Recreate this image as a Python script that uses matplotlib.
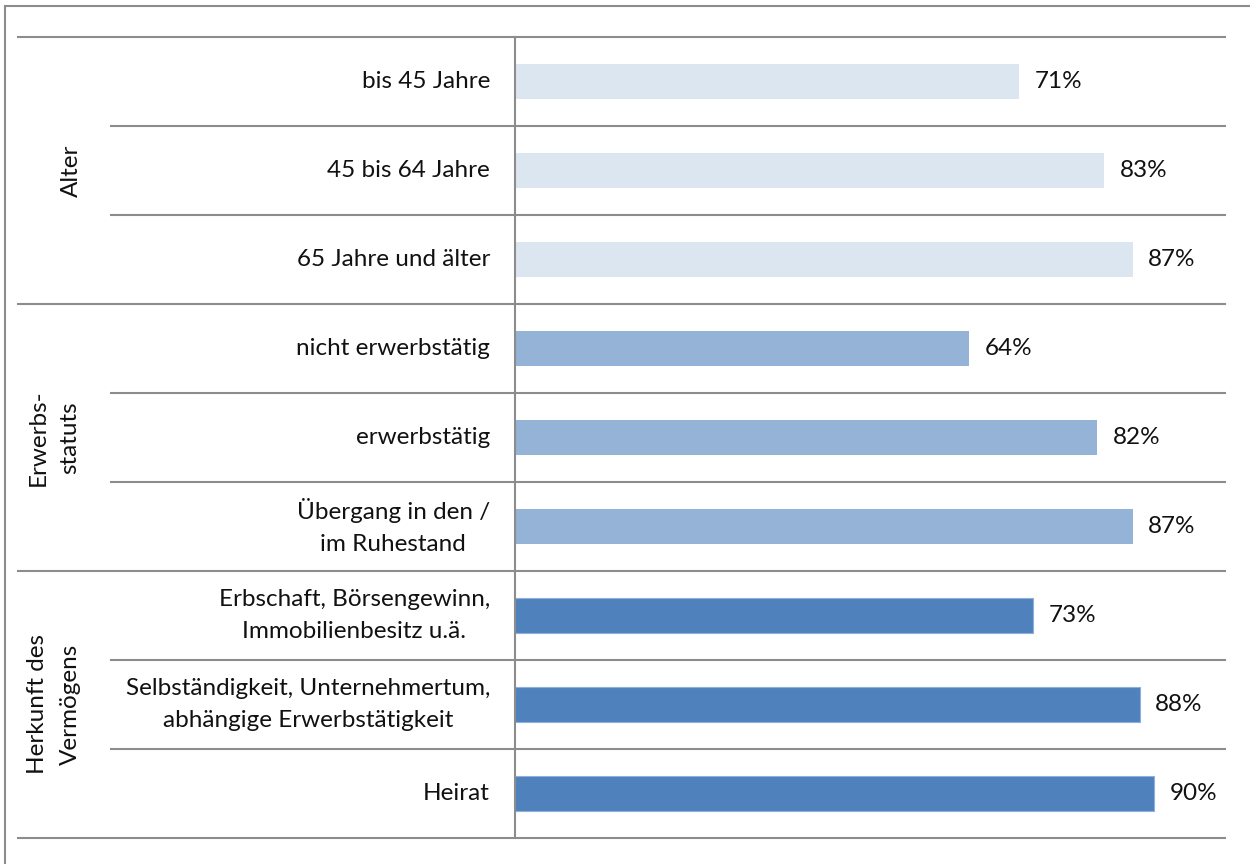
import matplotlib.pyplot as plt
from matplotlib.lines import Line2D
import matplotlib.transforms as mtransforms

plt.rcParams['font.family'] = ['Lato', 'DejaVu Sans']

# Daten
kategorien = ['bis 45 Jahre', '45 bis 64 Jahre', '65 Jahre und älter',
              'nicht erwerbstätig', 'erwerbstätig', 'Übergang in den /\nim Ruhestand',
              'Erbschaft, Börsengewinn,\nImmobilienbesitz u.ä.',
              'Selbständigkeit, Unternehmertum,\nabhängige Erwerbstätigkeit',
              'Heirat']
werte = [71, 83, 87, 64, 82, 87, 73, 88, 90]
gruppen = ['Alter', 'Erwerbs-\nstatuts', 'Herkunft des\nVermögens']
gruppen_groesse = [3, 3, 3]
gruppen_x = [71, 54, 54]
farben = ['#DCE6F1', '#95B3D7', '#4F81BD']

W, H = 1250, 864
fig = plt.figure(figsize=(W / 100, H / 100), dpi=100)
ax = fig.add_axes([515 / W, (H - 838) / H, 710 / W, (838 - 37) / H])

grau = '#8c8c8c'
fs = 17.5
n = len(werte)
y = list(range(n))
bar_farben = []
for g, k in enumerate(gruppen_groesse):
    bar_farben += [farben[g]] * k

bars = ax.barh(y, werte, height=0.4, color=bar_farben, left=0)
for b, f in zip(bars, bar_farben):
    if f == farben[2]:
        b.set_edgecolor('#8fb0dc')
        b.set_linewidth(0.8)

for yi, v in zip(y, werte):
    ax.annotate(f'{v}%', (v, yi), xytext=(11, 0), textcoords='offset points',
                va='center', ha='left', fontsize=fs, color='#111111')

ax.set_xlim(0, 100)
ax.set_ylim(n - 0.5, -0.5)
ax.set_xticks([])
ax.set_yticks([])
for s in ['top', 'right', 'bottom']:
    ax.spines[s].set_visible(False)
ax.spines['left'].set_color(grau)
ax.spines['left'].set_linewidth(1.5)

# Trennlinien zwischen Zeilen und Gruppen
trans = mtransforms.blended_transform_factory(fig.transFigure, ax.transData)
grenzen = [sum(gruppen_groesse[:i]) for i in range(len(gruppen_groesse) + 1)]
for i in range(n + 1):
    yy = i - 0.5
    x0 = 18 / W if i in grenzen else 111 / W
    fig.add_artist(Line2D([x0, 1225 / W], [yy, yy], transform=trans,
                          color=grau, lw=1.5, clip_on=False))

# Kategorienbeschriftung
for yi, k in zip(y, kategorien):
    fig.text(490 / W, yi, k, transform=trans, ha='right', va='center',
             multialignment='center', fontsize=fs, color='#111111',
             linespacing=1.6)

# Gruppenbeschriftung
for g, name in enumerate(gruppen):
    mitte = (grenzen[g] + grenzen[g + 1]) / 2 - 0.5
    fig.text(gruppen_x[g] / W, mitte, name, transform=trans, rotation=90,
             ha='center', va='center', multialignment='center',
             fontsize=fs, color='#111111', linespacing=1.65)

# Rahmen
fig.add_artist(Line2D([5 / W, 1], [1 - 6 / H, 1 - 6 / H], color=grau, lw=1.5))
fig.add_artist(Line2D([5 / W, 5 / W], [0, 1 - 6 / H], color=grau, lw=1.5))

fig.savefig('out.png', dpi=100, facecolor='white')
